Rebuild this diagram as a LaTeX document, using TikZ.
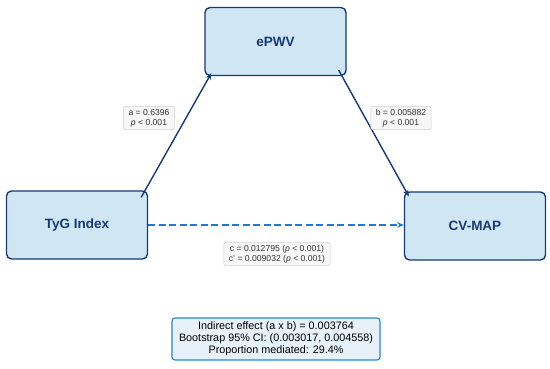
\documentclass[tikz,border=0pt]{standalone}
\usepackage{fontspec}
\setmainfont{Liberation Sans}
\usetikzlibrary{arrows.meta,calc}
\definecolor{navy}{HTML}{163A78}
\definecolor{boxfill}{HTML}{D0E6F3}
\definecolor{dashblue}{HTML}{1F78D1}
\definecolor{labtext}{HTML}{333333}
\definecolor{labborder}{HTML}{CFCFCF}
\definecolor{labfill}{HTML}{F7F7F7}
\definecolor{sumfill}{HTML}{E6F1FA}
\definecolor{sumborder}{HTML}{2B84CF}
\tikzset{
  varbox/.style={draw=navy, line width=1.4pt, fill=boxfill, rounded corners=5pt,
    minimum width=141pt, minimum height=68pt, inner sep=0pt,
    font=\fontsize{13.5}{15}\selectfont\bfseries, text=navy},
  pathlabel/.style={draw=labborder, line width=0.5pt, fill=labfill, rounded corners=1.5pt,
    font=\fontsize{8.6}{10.2}\selectfont, text=labtext, align=center, inner xsep=5pt, inner ysep=2.5pt},
  patharrow/.style={draw=navy, line width=1.4pt, -{Stealth[length=6.5pt,width=5.5pt]}},
  directarrow/.style={draw=dashblue, line width=1.4pt, dash pattern=on 7pt off 3.5pt, -{Stealth[length=6.5pt,width=5.5pt]}},
  summary/.style={draw=sumborder, line width=1.1pt, fill=sumfill, rounded corners=3pt,
    font=\fontsize{10.8}{12}\selectfont, text=black, align=center, minimum width=208pt, minimum height=42pt, inner xsep=3pt, inner ysep=2pt}
}
\begin{document}
\begin{tikzpicture}[x=1pt,y=-1pt]
\useasboundingbox (0,0) rectangle (550,369);
\node[varbox] (epwv) at (275.5,41.5) {ePWV};
\node[varbox] (tyg) at (77,225) {TyG Index};
\node[varbox] (cvmap) at (475,226) {CV-MAP};
\draw[patharrow] ($(tyg.north east)+(-7,7)$) -- ($(epwv.south west)+(7,-3)$);
\draw[patharrow] ($(epwv.south east)+(-8,-6)$) -- ($(cvmap.north west)+(5,5)$);
\draw[directarrow] (tyg.east |- 0,225) -- (cvmap.west |- 0,225);
\node[pathlabel] (la) at (149,118) {a = 0.6396\\\textit{p} < 0.001};
\node[pathlabel] (lb) at (401,118) {b = 0.005882\\\textit{p} < 0.001};
\node[pathlabel] (lc) at (277,254) {c = 0.012795 (\textit{p} < 0.001)\\c’ = 0.009032 (\textit{p} < 0.001)};
\node[summary] (sum) at (276,339) {Indirect effect (a x b) = 0.003764\\Bootstrap 95\% CI: (0.003017, 0.004558)\\Proportion mediated: 29.4\%};
\end{tikzpicture}
\end{document}
